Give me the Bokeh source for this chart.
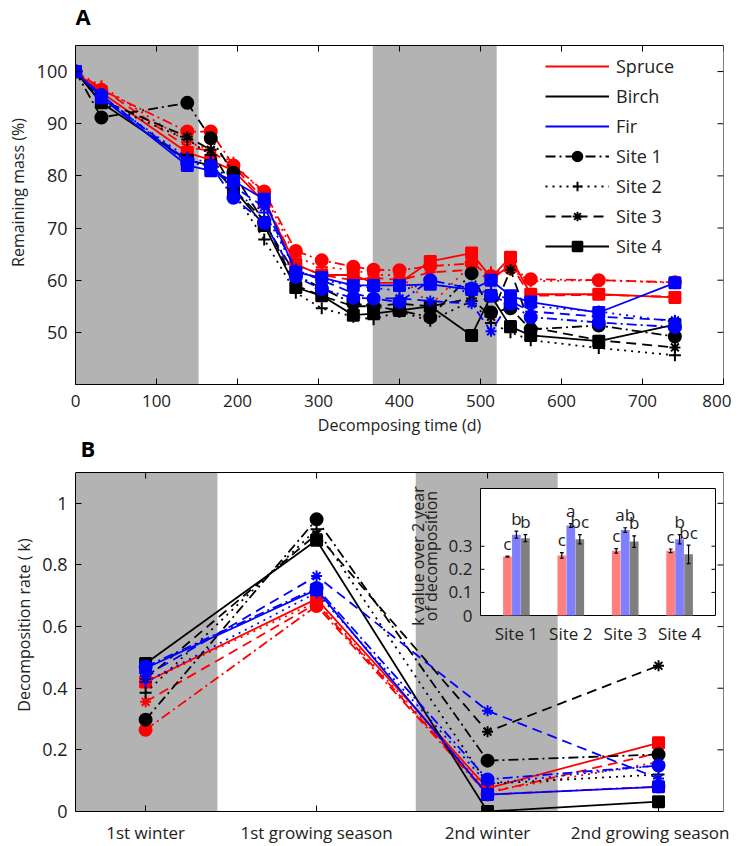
import numpy as np
from bokeh.plotting import figure
from bokeh.models import (Range1d, FixedTicker, Legend, LegendItem, Title,
                          CustomJSTickFormatter, BoxAnnotation)
from bokeh.layouts import column
from bokeh.embed import file_html
from bokeh.resources import INLINE
from bokeh.core.properties import value

FONT = "Open Sans"
TXT = "#222222"

# ---------------- data: panel A (remaining mass, %) ----------------
days = [0, 32, 138, 167, 195, 233, 272, 304, 343, 368, 400, 438, 489, 513, 537, 562, 646, 740]

spruce_s1 = [100, 96.5, 88.5, 88.5, 82.0, 77.0, 65.6, 63.8, 62.6, 62.0, 61.9, 62.7, 63.2, 60.8, 62.3, 60.2, 60.0, 59.6]
spruce_s2 = [100, 97.2, 86.5, 85.0, 82.5, 76.5, 64.5, 62.5, 62.0, 61.0, 61.0, 55.2, 63.0, 61.5, 62.0, 59.8, 60.0, 59.5]
spruce_s3 = [100, 96.8, 85.5, 84.8, 81.8, 75.5, 63.0, 61.0, 60.0, 60.5, 60.0, 61.5, 62.0, 60.0, 63.0, 57.0, 57.2, 56.8]
spruce_s4 = [100, 96.0, 84.5, 83.0, 81.0, 75.0, 63.0, 61.0, 61.0, 59.5, 59.5, 63.6, 65.2, 60.5, 64.4, 57.3, 57.3, 56.7]

birch_s1 = [100, 91.2, 94.0, 87.2, 80.6, 71.0, 61.0, 58.5, 55.5, 55.0, 54.2, 52.9, 61.3, 53.8, 54.6, 50.6, 51.3, 49.2]
birch_s2 = [100, 94.0, 87.0, 84.0, 77.0, 67.8, 57.6, 54.6, 53.0, 52.5, 54.0, 52.2, 56.0, 51.8, 50.0, 48.5, 47.0, 45.6]
birch_s3 = [100, 94.5, 87.5, 85.0, 77.5, 71.5, 59.0, 57.0, 55.0, 55.0, 55.5, 55.0, 56.5, 53.0, 62.0, 51.0, 48.5, 47.1]
birch_s4 = [100, 94.0, 83.0, 82.0, 77.5, 70.5, 58.6, 57.0, 53.3, 53.6, 54.2, 55.0, 49.4, 57.0, 51.1, 49.4, 48.3, 51.5]

fir_s1 = [100, 95.5, 82.5, 82.0, 75.8, 71.0, 60.6, 58.3, 56.6, 56.5, 55.8, 60.0, 58.4, 57.0, 55.5, 52.9, 51.9, 51.0]
fir_s2 = [100, 95.0, 83.5, 82.5, 77.0, 73.0, 62.0, 60.0, 59.0, 58.5, 58.0, 59.5, 57.5, 58.0, 56.0, 55.0, 54.0, 52.0]
fir_s3 = [100, 95.2, 83.0, 82.0, 78.0, 74.0, 62.0, 60.0, 57.5, 56.5, 56.5, 56.0, 55.5, 50.2, 56.0, 54.0, 53.0, 52.3]
fir_s4 = [100, 95.0, 82.0, 81.0, 79.0, 75.5, 61.5, 60.5, 59.0, 59.0, 59.0, 59.2, 58.2, 60.0, 57.0, 55.8, 53.8, 59.5]

winter_days = [(0, 152), (367, 520)]
xlim_A = (0, 800)
ylim_A = (40, 105)
xticks_A = [0, 100, 200, 300, 400, 500, 600, 700, 800]
yticks_A = [50, 60, 70, 80, 90, 100]

# ---------------- data: panel B (decomposition rate k) ----------------
seasons = ["1st winter", "1st growing season", "2nd winter", "2nd growing season"]
season_pos = [1, 2, 3, 4]

k_spruce_s1 = [0.265, 0.667, 0.055, 0.081]
k_spruce_s2 = [0.420, 0.680, 0.065, 0.160]
k_spruce_s3 = [0.356, 0.675, 0.060, 0.190]
k_spruce_s4 = [0.420, 0.690, 0.075, 0.223]

k_birch_s1 = [0.298, 0.948, 0.165, 0.185]
k_birch_s2 = [0.385, 0.916, 0.090, 0.120]
k_birch_s3 = [0.430, 0.900, 0.259, 0.473]
k_birch_s4 = [0.480, 0.880, 0.000, 0.032]

k_fir_s1 = [0.470, 0.725, 0.104, 0.149]
k_fir_s2 = [0.420, 0.710, 0.090, 0.150]
k_fir_s3 = [0.440, 0.764, 0.327, 0.107]
k_fir_s4 = [0.465, 0.720, 0.055, 0.080]

winter_seasons = [(0.59, 1.42), (2.58, 3.41)]
xlim_B = (0.59, 4.38)
ylim_B = (0, 1.1)
yticks_B = [0, 0.2, 0.4, 0.6, 0.8, 1.0]

# ---------------- data: inset (k over 2 years) ----------------
sites = ["Site 1", "Site 2", "Site 3", "Site 4"]
site_pos = [1, 2, 3, 4]
k2_spruce = [0.255, 0.260, 0.280, 0.280]
k2_fir = [0.350, 0.390, 0.370, 0.330]
k2_birch = [0.335, 0.330, 0.320, 0.265]
e2_spruce = [0.002, 0.012, 0.010, 0.008]
e2_fir = [0.015, 0.008, 0.010, 0.020]
e2_birch = [0.015, 0.020, 0.025, 0.040]
let_spruce = ["c", "c", "c", "c"]
let_fir = ["b", "a", "ab", "b"]
let_birch = ["b", "bc", "b", "bc"]
inset_xlim = (0.34, 4.66)
inset_ylim = (0.0, 0.55)
inset_yticks = [0, 0.1, 0.2, 0.3]
inset_ytick_labels = ["0", "0.1", "0.2", "0.3"]

# ---------------- styles / layout ----------------
species_colors = {"Spruce": "#ff0000", "Birch": "#000000", "Fir": "#0000ff"}
site_styles = {
    "Site 1": dict(dash="10 4 2 4", marker="circle", size=12),
    "Site 2": dict(dash="2 5", marker="cross", size=12),
    "Site 3": dict(dash="10 6", marker="asterisk", size=11),
    "Site 4": dict(dash="solid", marker="square", size=11),
}
SHADE = "#b3b3b3"
LW = 1.8
FW = 648            # frame width (px)
AX_H = 339          # height of each axes box (px)
HEAD_A = 45         # px of frame above panel A's axes box (room for the "A")
HEAD_B = 34         # px of frame above panel B's axes box (room for the "B")
TICK = 6

seriesA = [("Spruce", "Site 1", spruce_s1), ("Spruce", "Site 2", spruce_s2),
           ("Spruce", "Site 3", spruce_s3), ("Spruce", "Site 4", spruce_s4),
           ("Birch", "Site 1", birch_s1), ("Birch", "Site 2", birch_s2),
           ("Birch", "Site 3", birch_s3), ("Birch", "Site 4", birch_s4),
           ("Fir", "Site 1", fir_s1), ("Fir", "Site 2", fir_s2),
           ("Fir", "Site 3", fir_s3), ("Fir", "Site 4", fir_s4)]
seriesB = [("Spruce", "Site 1", k_spruce_s1), ("Spruce", "Site 2", k_spruce_s2),
           ("Spruce", "Site 3", k_spruce_s3), ("Spruce", "Site 4", k_spruce_s4),
           ("Birch", "Site 1", k_birch_s1), ("Birch", "Site 2", k_birch_s2),
           ("Birch", "Site 3", k_birch_s3), ("Birch", "Site 4", k_birch_s4),
           ("Fir", "Site 1", k_fir_s1), ("Fir", "Site 2", k_fir_s2),
           ("Fir", "Site 3", k_fir_s3), ("Fir", "Site 4", k_fir_s4)]


def make_panel(xlim, ylim, head, min_bottom):
    ppu = AX_H / (ylim[1] - ylim[0])
    yr = Range1d(ylim[0], ylim[1] + head / ppu)
    p = figure(frame_width=FW, frame_height=AX_H + head, output_backend="svg",
               toolbar_location=None, x_range=Range1d(*xlim), y_range=yr,
               min_border_left=73, min_border_right=8, min_border_top=0,
               min_border_bottom=min_bottom)
    p.grid.visible = False
    p.outline_line_color = None
    return p, ppu


def style_axis(ax, size):
    ax.major_tick_in = TICK
    ax.major_tick_out = 0
    ax.minor_tick_line_color = None
    ax.axis_line_color = "black"
    ax.major_tick_line_color = "black"
    ax.major_label_text_font = FONT
    ax.major_label_text_color = TXT
    ax.major_label_text_font_size = size
    ax.axis_label_text_font = FONT
    ax.axis_label_text_font_style = "normal"
    ax.axis_label_text_font_size = "16px"
    ax.axis_label_text_color = TXT


def y_label(p, text, shift_down):
    """y-axis label as a left-side title so it can be centred on the axes box."""
    p.add_layout(Title(text=text, align="center", offset=-shift_down, standoff=9,
                       text_font=FONT, text_font_size="16px", text_font_style="normal",
                       text_color=TXT), "left")


def box(p, xlim, ylim, ppu, xticks, yticks):
    """top and right edges of the axes box, with inward ticks (matlab 'box on')."""
    p.segment(x0=[xlim[0], xlim[1]], y0=[ylim[1], ylim[0]], x1=[xlim[1], xlim[1]],
              y1=[ylim[1], ylim[1]], line_color="black", line_width=1)
    dy = TICK / ppu
    dx = TICK * (xlim[1] - xlim[0]) / FW
    p.segment(x0=xticks, y0=[ylim[1]] * len(xticks), x1=xticks,
              y1=[ylim[1] - dy] * len(xticks), line_color="black", line_width=1)
    p.segment(x0=[xlim[1]] * len(yticks), y0=yticks, x1=[xlim[1] - dx] * len(yticks),
              y1=yticks, line_color="black", line_width=1)
    p.xaxis.bounds = xlim
    p.yaxis.bounds = ylim


def shade(p, spans, ylim):
    for a, b in spans:
        p.add_layout(BoxAnnotation(left=a, right=b, bottom=ylim[0], top=ylim[1],
                                   fill_color=SHADE, fill_alpha=1, line_color=None,
                                   level="underlay"))


def draw_series(p, x, series):
    for sp, site, ys in series:
        st = site_styles[site]
        c = species_colors[sp]
        p.line(x, ys, line_color=c, line_width=LW, line_dash=st["dash"])
        p.scatter(x, ys, marker=st["marker"], size=st["size"], fill_color=c,
                  line_color=c, line_width=2)


def panel_letter(p, text, x, y):
    p.text(x=[x], y=[y], text=[text], text_font=value(FONT), text_font_size="22px",
           text_font_style="bold", text_color="black", text_align="left",
           text_baseline="middle")


# ================= Panel A =================
pA, ppuA = make_panel(xlim_A, ylim_A, HEAD_A, 52)
shade(pA, winter_days, ylim_A)
draw_series(pA, days, seriesA)

pA.xaxis.ticker = FixedTicker(ticks=xticks_A)
pA.yaxis.ticker = FixedTicker(ticks=yticks_A)
style_axis(pA.xaxis[0], "17px")
style_axis(pA.yaxis[0], "18px")
pA.xaxis.major_label_standoff = 10
pA.yaxis.major_label_standoff = 8
pA.xaxis.axis_label = "Decomposing time (d)"
pA.xaxis.axis_label_standoff = 4
y_label(pA, "Remaining mass (%)", HEAD_A / 2)
box(pA, xlim_A, ylim_A, ppuA, xticks_A, yticks_A)
panel_letter(pA, "A", xlim_A[0], ylim_A[1] + 30 / ppuA)

# legend (proxy renderers placed outside the visible ranges)
items = []
for sp in ["Spruce", "Birch", "Fir"]:
    r = pA.line([-1000, -999], [-1000, -1000], line_color=species_colors[sp], line_width=LW)
    items.append(LegendItem(label=sp, renderers=[r]))
for site in ["Site 1", "Site 2", "Site 3", "Site 4"]:
    st = site_styles[site]
    r1 = pA.line([-1000, -999], [-1000, -1000], line_color="black", line_width=LW,
                 line_dash=st["dash"])
    r2 = pA.scatter([-1000], [-1000], marker=st["marker"], size=st["size"],
                    fill_color="black", line_color="black", line_width=2)
    items.append(LegendItem(label=site, renderers=[r1, r2]))
leg = Legend(items=items, location=(470, 126), glyph_width=64, glyph_height=24,
             label_height=24, spacing=6, padding=6, margin=0, label_standoff=7,
             label_text_font=FONT, label_text_font_size="18px", label_text_color=TXT,
             background_fill_color="white", background_fill_alpha=1, border_line_color=None)
pA.add_layout(leg)

# ================= Panel B =================
pB, ppuB = make_panel(xlim_B, ylim_B, HEAD_B, 30)
shade(pB, winter_seasons, ylim_B)
draw_series(pB, season_pos, seriesB)

pB.xaxis.ticker = FixedTicker(ticks=season_pos)
pB.xaxis.major_label_overrides = {p: s for p, s in zip(season_pos, seasons)}
pB.yaxis.ticker = FixedTicker(ticks=yticks_B)
pB.yaxis.formatter = CustomJSTickFormatter(code="return String(tick);")
style_axis(pB.xaxis[0], "17px")
style_axis(pB.yaxis[0], "18px")
pB.xaxis.major_label_standoff = 9
pB.yaxis.major_label_standoff = 8
y_label(pB, "Decomposition rate ( k)", HEAD_B / 2)
box(pB, xlim_B, ylim_B, ppuB, season_pos, yticks_B)
pxB = FW / (xlim_B[1] - xlim_B[0])
panel_letter(pB, "B", xlim_B[0] + 5 / pxB, ylim_B[1] + 25 / ppuB)

# ---- inset drawn on extra ranges (pixel box inside panel B's frame) ----
FH_B = AX_H + HEAD_B
IL, IR = 405, 640                       # inset box, px from frame left
IT, IB = HEAD_B + 16, HEAD_B + 143      # inset box, px from frame top
ix0, ix1 = inset_xlim
iy0, iy1 = inset_ylim
sx = (IR - IL) / (ix1 - ix0)
sy = (IB - IT) / (iy1 - iy0)
pB.extra_x_ranges = {"ix": Range1d(ix0 - IL / sx, ix1 + (FW - IR) / sx)}
pB.extra_y_ranges = {"iy": Range1d(iy0 - (FH_B - IB) / sy, iy1 + IT / sy)}
kw = dict(x_range_name="ix", y_range_name="iy")

pB.quad(left=[ix0], right=[ix1], bottom=[iy0], top=[iy1], fill_color="white",
        line_color="black", line_width=1, **kw)
off = 0.165
bw = 0.16
groups = [(-off, k2_spruce, e2_spruce, let_spruce, "#ff7f7f"),
          (0.0, k2_fir, e2_fir, let_fir, "#7f7fff"),
          (off, k2_birch, e2_birch, let_birch, "#7f7f7f")]
for dx, vals, errs, lets, col in groups:
    xs = [s + dx for s in site_pos]
    pB.vbar(x=xs, top=vals, width=bw, bottom=0, fill_color=col, line_color=None, **kw)
    lo = [v - e for v, e in zip(vals, errs)]
    hi = [v + e for v, e in zip(vals, errs)]
    pB.segment(x0=xs, y0=lo, x1=xs, y1=hi, line_color="black", line_width=1.2, **kw)
    cw = 0.035
    pB.segment(x0=[x - cw for x in xs], y0=lo, x1=[x + cw for x in xs], y1=lo,
               line_color="black", line_width=1.2, **kw)
    pB.segment(x0=[x - cw for x in xs], y0=hi, x1=[x + cw for x in xs], y1=hi,
               line_color="black", line_width=1.2, **kw)
    pB.text(x=xs, y=[h + 0.006 for h in hi], text=lets, text_font=value(FONT),
            text_font_size="17px", text_align="center", text_baseline="bottom",
            text_color=TXT, **kw)
# inset ticks and labels
tl = 4 / sx
tk = inset_yticks[1:]
pB.segment(x0=[ix0] * len(tk), y0=tk, x1=[ix0 + tl] * len(tk), y1=tk, line_color="black", **kw)
pB.segment(x0=[ix1] * len(tk), y0=tk, x1=[ix1 - tl] * len(tk), y1=tk, line_color="black", **kw)
pB.text(x=[ix0 - 8 / sx] * len(inset_yticks), y=inset_yticks, text=inset_ytick_labels,
        text_font=value(FONT), text_font_size="17px", text_align="right",
        text_baseline="middle", text_color=TXT, **kw)
pB.text(x=site_pos, y=[-18 / sy] * len(site_pos), text=sites, text_font=value(FONT),
        text_font_size="17px", text_align="center", text_baseline="middle",
        text_color=TXT, **kw)
ymid = (iy0 + iy1) / 2 - 4 / sy
pB.text(x=[ix0 - 63 / sx, ix0 - 50 / sx], y=[ymid, ymid],
        text=["k value over 2 year", "of decomposition"], angle=np.pi / 2,
        text_font=value(FONT), text_font_size="16px", text_align="center",
        text_baseline="middle", text_color=TXT, **kw)

layout = column(pA, pB, spacing=0)
open("out.html", "w").write(file_html(layout, INLINE))
